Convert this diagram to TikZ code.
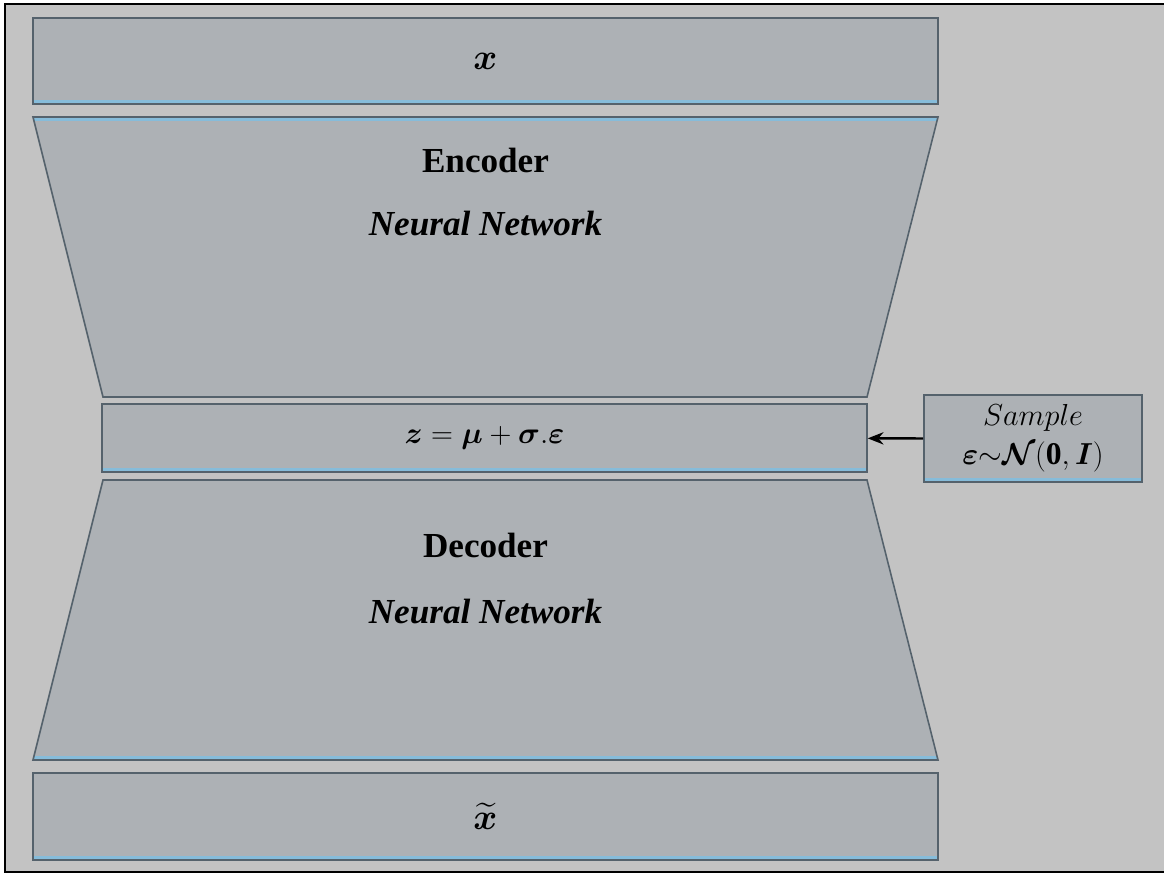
\documentclass[tikz,border=0pt]{standalone}
\usepackage{amsmath}
\usepackage{amssymb}
\usepackage{fontspec}
\setmainfont{Liberation Serif}
\usetikzlibrary{arrows.meta, positioning, calc}

\definecolor{pagegray}{HTML}{C3C3C3}
\definecolor{boxgray}{HTML}{ADB1B5}
\definecolor{edgegray}{HTML}{55626C}
\definecolor{glowblue}{HTML}{86BCDA}

\begin{document}
\begin{tikzpicture}[x=0.02cm, y=-0.02cm,
  layer/.style={draw=edgegray, fill=boxgray, line width=0.9pt, inner sep=0pt,
    font=\fontsize{20}{24}\selectfont},
  lowglow/.style={path picture={\draw[glowblue, line width=4pt]
    (path picture bounding box.south west) -- (path picture bounding box.south east);}},
  topglow/.style={path picture={\draw[glowblue, line width=4pt]
    (path picture bounding box.north west) -- (path picture bounding box.north east);}},
  title/.style={font=\fontsize{20}{24}\selectfont\bfseries},
  arrow/.style={-{Stealth[length=9pt, width=7pt]}, line width=1.3pt}
]
  \useasboundingbox (0,0) rectangle (1164,875);
  \fill[pagegray] (5,4) rectangle (1164,872);
  \draw[line width=1.4pt] (1164,4) -- (5,4) -- (5,872) -- (1164,872);

  % input and output layers
  \node[layer, lowglow, minimum width=18.1cm, minimum height=1.72cm] (xin) at (485.5,61) {$\boldsymbol{x}$};
  \node[layer, lowglow, minimum width=18.1cm, minimum height=1.74cm] (xout) at (485.5,816.5) {$\boldsymbol{\widetilde{x}}$};

  % encoder / decoder funnels
  \draw[layer, topglow] (33,117) -- (938,117) -- (867,397) -- (103,397) -- cycle;
  \draw[layer, lowglow] (103,480) -- (867,480) -- (938,760) -- (33,760) -- cycle;
  \node[title] (enctitle) at (485.5,160) {Encoder};
  \node[title] (encnet) at (485.5,224) {\textit{Neural Network}};
  \node[title] (dectitle) at (485.5,545) {Decoder};
  \node[title] (decnet) at (485.5,612) {\textit{Neural Network}};

  % latent code
  \node[layer, lowglow, minimum width=15.3cm, minimum height=1.36cm,
    font=\fontsize{18}{22}\selectfont] (latent) at (484.5,438)
    {$\boldsymbol{z}=\boldsymbol{\mu}+\boldsymbol{\sigma}.\boldsymbol{\varepsilon}$};

  % noise sample
  \node[layer, lowglow, minimum width=4.36cm, minimum height=1.74cm, align=center,
    font=\fontsize{18}{22}\selectfont] (noise) at (1033,438.5)
    {$Sample$\\$\boldsymbol{\varepsilon}{\sim}\boldsymbol{\mathcal{N}}(\mathbf{0},\boldsymbol{I})$};

  \draw[arrow] (noise) -- (latent);
\end{tikzpicture}
\end{document}
